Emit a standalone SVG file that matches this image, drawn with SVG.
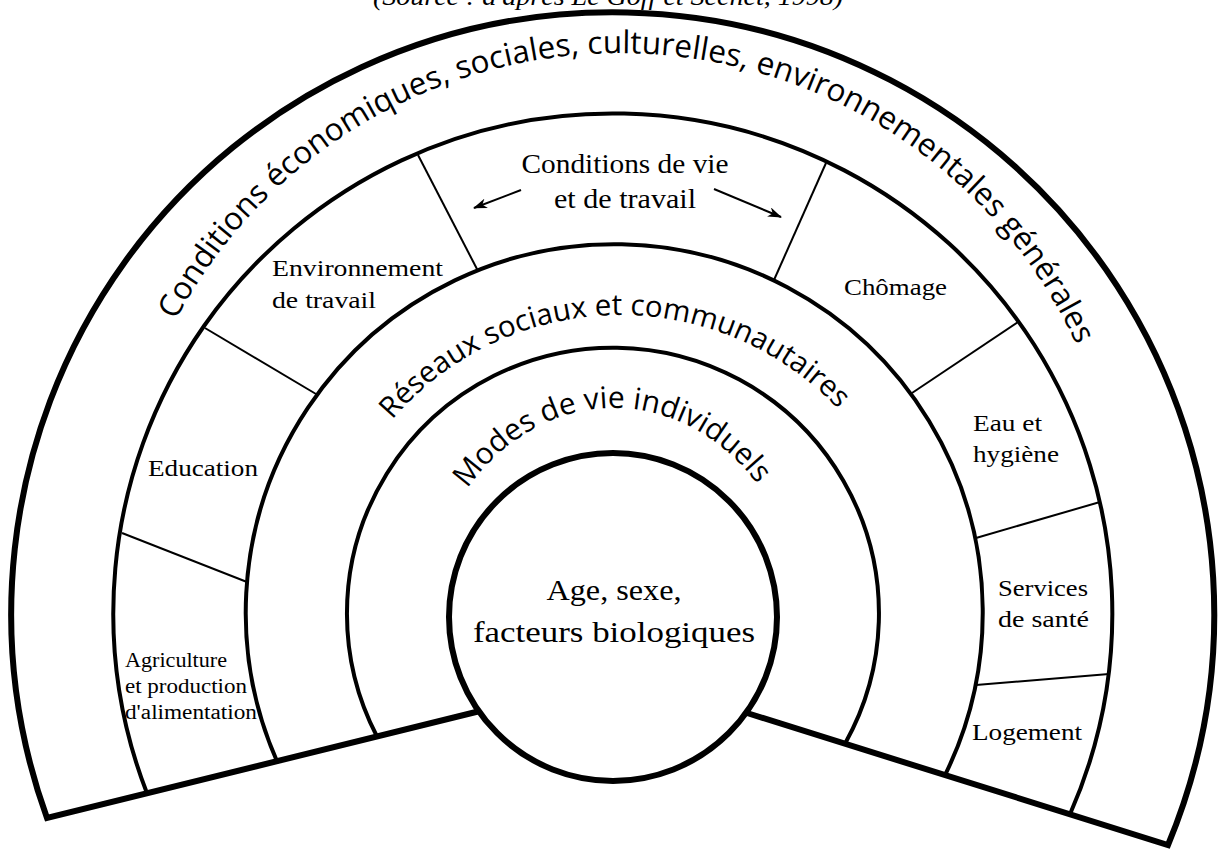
<svg xmlns="http://www.w3.org/2000/svg" width="1219" height="853" viewBox="0 0 1219 853">
<style>
.thick{fill:none;stroke:#000;stroke-width:6;stroke-linejoin:miter}
.ring{fill:none;stroke:#000;stroke-width:4}
.dv{fill:none;stroke:#000;stroke-width:2}
.lbl{font-family:"Liberation Serif","Times New Roman",serif;fill:#000}
.arch{font-family:"Open Sans","DejaVu Sans",sans-serif;fill:#000}
</style>
<defs>
<marker id="ah" viewBox="0 0 14 10" refX="13" refY="5" markerWidth="14" markerHeight="10" orient="auto" markerUnits="userSpaceOnUse">
<path d="M0,0 L14,5 L0,10 L4,5 z" fill="#000"/>
</marker>
<path id="p1" d="M 127.2 455.3 A 503 503 0 0 1 1117.5 482.1"/>
<path id="p2" d="M 335.7 519.3 A 300 300 0 0 1 899.3 505.5"/>
<path id="p3" d="M 434.6 556.8 A 190 222 0 0 1 791.7 551.3"/>
</defs>
<rect width="1219" height="853" fill="#fff"/>

<g id="source">
<text class="lbl" x="608" y="5" font-size="25" font-style="italic" text-anchor="middle" textLength="470" lengthAdjust="spacingAndGlyphs">(Source : d'après Le Goff et Séchet, 1998)</text>
</g>

<g id="connectors">
<path class="thick" d="M 478 711.5 L 47 818 A 601.5 601.5 0 1 1 1168 845 L 747 713"/>
<path class="ring" d="M 147 793.3 A 499.5 499.5 0 1 1 1070 814.2"/>
<path class="ring" d="M 277 761.2 A 368.5 368.5 0 1 1 945 775.1"/>
<path class="ring" d="M 377 736.5 A 266 266 0 1 1 845 743.7"/>
<line class="dv" x1="122" y1="533" x2="247" y2="582"/>
<line class="dv" x1="205" y1="328" x2="316" y2="394"/>
<line class="dv" x1="418" y1="155" x2="478" y2="271"/>
<line class="dv" x1="826" y1="163" x2="774" y2="280"/>
<line class="dv" x1="1018" y1="322" x2="912" y2="393"/>
<line class="dv" x1="1100" y1="502" x2="976" y2="538"/>
<line class="dv" x1="1109" y1="674" x2="976" y2="685"/>
<line class="dv" x1="521" y1="190" x2="474" y2="208" marker-end="url(#ah)"/>
<line class="dv" x1="714" y1="189" x2="781" y2="217" marker-end="url(#ah)"/>
</g>

<g id="core">
<circle class="thick" cx="613" cy="617" r="164"/>
<text class="lbl" x="614" y="600" font-size="30" text-anchor="middle" textLength="135" lengthAdjust="spacingAndGlyphs">Age, sexe,</text>
<text class="lbl" x="614" y="642" font-size="30" text-anchor="middle" textLength="282" lengthAdjust="spacingAndGlyphs">facteurs biologiques</text>
</g>

<g id="band-general">
<text class="arch" font-size="31.5"><textPath href="#p1" startOffset="50%" text-anchor="middle">Conditions économiques, sociales, culturelles, environnementales générales</textPath></text>
</g>
<g id="band-reseaux">
<text class="arch" font-size="29.5"><textPath href="#p2" startOffset="50%" text-anchor="middle">Réseaux sociaux et communautaires</textPath></text>
</g>
<g id="band-modes">
<text class="arch" font-size="30"><textPath href="#p3" startOffset="50%" text-anchor="middle">Modes de vie individuels</textPath></text>
</g>

<g id="conditions-vie">
<text class="lbl" x="625" y="173" font-size="27" text-anchor="middle" textLength="207" lengthAdjust="spacingAndGlyphs">Conditions de vie</text>
<text class="lbl" x="625" y="208" font-size="27" text-anchor="middle" textLength="142" lengthAdjust="spacingAndGlyphs">et de travail</text>
</g>
<g id="environnement">
<text class="lbl" x="272" y="276" font-size="24" textLength="171" lengthAdjust="spacingAndGlyphs">Environnement</text>
<text class="lbl" x="272" y="308" font-size="24" textLength="104" lengthAdjust="spacingAndGlyphs">de travail</text>
</g>
<g id="education">
<text class="lbl" x="148" y="476" font-size="24" textLength="110" lengthAdjust="spacingAndGlyphs">Education</text>
</g>
<g id="agriculture">
<text class="lbl" x="125" y="667" font-size="20" textLength="102" lengthAdjust="spacingAndGlyphs">Agriculture</text>
<text class="lbl" x="125" y="693" font-size="20" textLength="122" lengthAdjust="spacingAndGlyphs">et production</text>
<text class="lbl" x="125" y="719" font-size="20" textLength="132" lengthAdjust="spacingAndGlyphs">d'alimentation</text>
</g>
<g id="chomage">
<text class="lbl" x="844" y="295" font-size="24" textLength="103" lengthAdjust="spacingAndGlyphs">Chômage</text>
</g>
<g id="eau">
<text class="lbl" x="973" y="431" font-size="24" textLength="69" lengthAdjust="spacingAndGlyphs">Eau et</text>
<text class="lbl" x="973" y="462" font-size="24" textLength="86" lengthAdjust="spacingAndGlyphs">hygiène</text>
</g>
<g id="services">
<text class="lbl" x="998" y="596" font-size="24" textLength="90" lengthAdjust="spacingAndGlyphs">Services</text>
<text class="lbl" x="998" y="627" font-size="24" textLength="91" lengthAdjust="spacingAndGlyphs">de santé</text>
</g>
<g id="logement">
<text class="lbl" x="972" y="740" font-size="24" textLength="110" lengthAdjust="spacingAndGlyphs">Logement</text>
</g>
</svg>
